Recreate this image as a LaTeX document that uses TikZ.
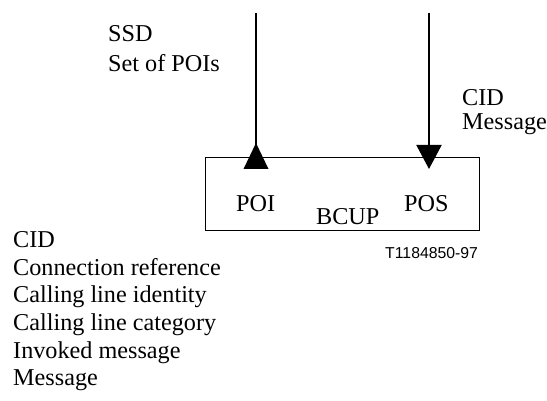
\documentclass[tikz,border=0pt]{standalone}
\usepackage{fontspec}
\setmainfont{Liberation Serif}
\newfontfamily\labelsans{Liberation Sans}
\usetikzlibrary{arrows.meta}
\begin{document}
\begin{tikzpicture}[x=1pt,y=-1pt,
  txt/.style={anchor=base west,inner sep=0pt,font=\fontsize{24.2}{27.6}\selectfont},
  flow/.style={line width=2pt},
  boxstyle/.style={draw,line width=1pt,minimum width=274pt,minimum height=73pt,inner sep=0pt}]
\useasboundingbox (0,0) rectangle (547,401);
\node[boxstyle] (box) at (342,194.5) {};
\coordinate (ltop) at (256,13);
\coordinate (lbot) at (256,169);
\coordinate (rtop) at (429,13);
\coordinate (rbot) at (429,169);
\draw[flow] (ltop) -- (lbot);
\fill (lbot) ++(0,-26) -- ++(12.5,26) -- ++(-25,0) -- cycle;
\draw[flow,-{Triangle[width=25pt,length=24pt]}] (rtop) -- (rbot);
\node[txt] (ssd) at (108,42) {SSD};
\node[txt] (setpoi) at (108,72) {Set of POIs};
\node[txt] (cidr) at (462,106) {CID};
\node[txt] (msgr) at (462,130) {Message};
\node[txt] (poi) at (236,212) {POI};
\node[txt] (bcup) at (316,225) {BCUP};
\node[txt] (pos) at (404,212) {POS};
\node[anchor=base west,inner sep=0pt,font=\labelsans\fontsize{15.8}{18}\selectfont] (tag) at (385,259) {T1184850-97};
\node[txt] (l1) at (13,247.5) {CID};
\node[txt] (l2) at (13,275.2) {Connection reference};
\node[txt] (l3) at (13,302.8) {Calling line identity};
\node[txt] (l4) at (13,330.5) {Calling line category};
\node[txt] (l5) at (13,358.1) {Invoked message};
\node[txt] (l6) at (13,385.8) {Message};
\end{tikzpicture}
\end{document}
